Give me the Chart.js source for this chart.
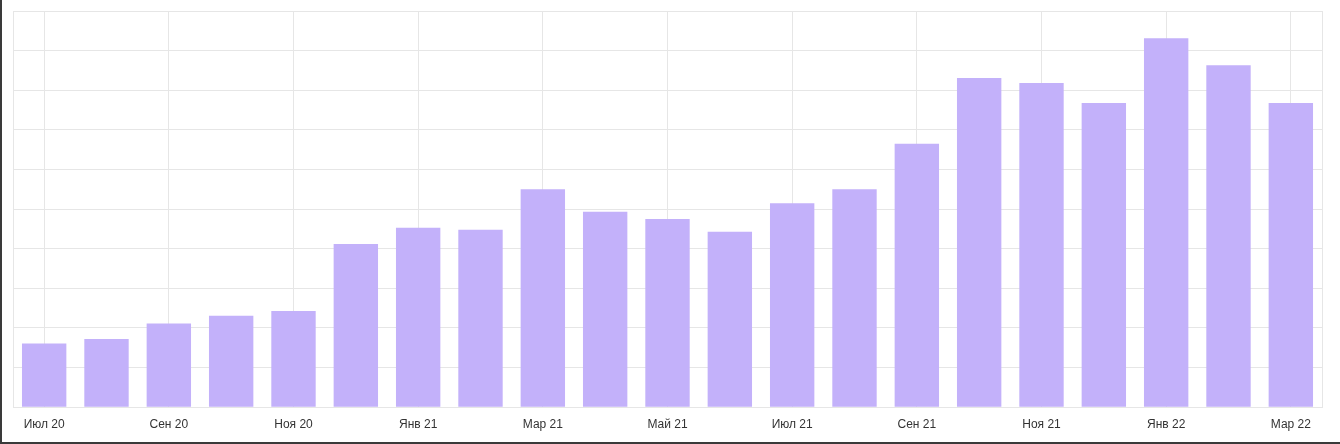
<!DOCTYPE html>
<html>
<head>
<meta charset="utf-8">
<script src="https://cdn.jsdelivr.net/npm/chart.js@4"></script>
<style>
  html, body { margin: 0; padding: 0; background: #fff; }
  .frame {
    width: 1340px; height: 444px; box-sizing: border-box;
    border-left: 2px solid #3a3a3a; border-bottom: 2px solid #3a3a3a;
    position: relative;
  }
  .frame canvas { display: block; }
</style>
</head>
<body>
<div class="frame"><canvas id="chart" width="1338" height="442"></canvas></div>
<script>
  // месяцы
  const months = ["Июл 20", "Авг 20", "Сен 20", "Окт 20", "Ноя 20", "Дек 20", "Янв 21", "Фев 21",
    "Мар 21", "Апр 21", "Май 21", "Июн 21", "Июл 21", "Авг 21", "Сен 21", "Окт 21", "Ноя 21",
    "Дек 21", "Янв 22", "Фев 22", "Мар 22"];
  const values = [1.61, 1.72, 2.11, 2.31, 2.43, 4.12, 4.53, 4.48, 5.50, 4.93, 4.75, 4.43,
    5.15, 5.50, 6.65, 8.31, 8.18, 7.68, 9.31, 8.63, 7.68];
  const yMin = 0;
  const yMax = 10;

  const gridColor = "#e6e6e6";

  new Chart(document.getElementById("chart").getContext("2d"), {
    type: "bar",
    data: {
      labels: months,
      datasets: [{
        data: values,
        backgroundColor: "#c3b1fa",
        categoryPercentage: 0.8,
        barPercentage: 0.89
      }]
    },
    options: {
      responsive: false,
      animation: false,
      layout: { padding: { left: 11, top: 11, right: 10, bottom: 0 } },
      plugins: { legend: { display: false }, tooltip: { enabled: false } },
      scales: {
        x: {
          grid: { offset: false, color: gridColor, drawTicks: false },
          border: { color: gridColor },
          ticks: {
            autoSkip: true, maxTicksLimit: 11, maxRotation: 0, padding: 12,
            color: "#333", font: { family: "'Liberation Sans', Arial", size: 12, lineHeight: 0.9 }
          }
        },
        y: {
          min: yMin, max: yMax,
          grid: { color: gridColor, drawTicks: false },
          border: { color: gridColor },
          ticks: { display: false, stepSize: 1 }
        },
        y2: {
          position: "right", min: yMin, max: yMax,
          grid: { display: false },
          border: { color: gridColor },
          ticks: { display: false }
        }
      }
    }
  });
</script>
</body>
</html>
